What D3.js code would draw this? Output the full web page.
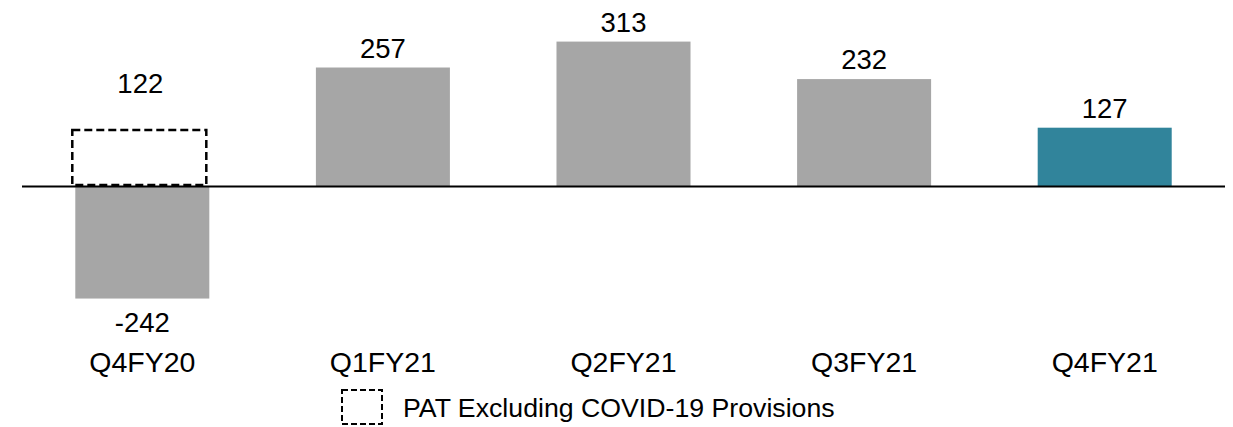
<!DOCTYPE html>
<html>
<head>
<meta charset="utf-8">
<script src="https://cdn.jsdelivr.net/npm/d3@7"></script>
<style>
  html, body { margin: 0; padding: 0; background: #fff; }
  svg { display: block; font-family: "Liberation Sans", Arial, sans-serif; }
</style>
</head>
<body>
<svg id="chart" width="1233" height="427"></svg>
<script>
const categories = ["Q4FY20", "Q1FY21", "Q2FY21", "Q3FY21", "Q4FY21"];
const patValues = [-242, 257, 313, 232, 127];
const exCovidCategories = ["Q4FY20"];
const exCovidValues = [122];
const legendLabel = "PAT Excluding COVID-19 Provisions";

const svg = d3.select("#chart");
const grey = "#A6A6A6", teal = "#31849B";

const x = d3.scaleBand().domain(categories).range([22, 1225])
  .paddingInner(0.443).paddingOuter(0.2215);
const y = d3.scaleLinear().domain([-250, 330]).range([186.5 + 250 * 0.463, 186.5 - 330 * 0.463]);

const fsVal = 27.5, fsCat = 28.5, fsLeg = 26.7;

// bars
svg.selectAll("rect.bar").data(categories).join("rect")
  .attr("class", "bar")
  .attr("x", d => x(d))
  .attr("width", x.bandwidth())
  .attr("y", (d, i) => y(Math.max(0, patValues[i])))
  .attr("height", (d, i) => Math.abs(y(patValues[i]) - y(0)))
  .attr("fill", (d, i) => i === categories.length - 1 ? teal : grey);

// dashed bars (excluding COVID provisions)
svg.selectAll("rect.ex").data(exCovidCategories).join("rect")
  .attr("class", "ex")
  .attr("x", d => x(d) - 3)
  .attr("width", x.bandwidth())
  .attr("y", (d, i) => y(exCovidValues[i]))
  .attr("height", (d, i) => y(0) - y(exCovidValues[i]) - 1.5)
  .attr("fill", "#fff")
  .attr("stroke", "#000")
  .attr("stroke-width", 2.5)
  .attr("stroke-dasharray", "8,4");

// baseline
svg.append("line")
  .attr("x1", x.range()[0]).attr("x2", x.range()[1])
  .attr("y1", y(0)).attr("y2", y(0))
  .attr("stroke", "#000").attr("stroke-width", 2);

// value labels
svg.selectAll("text.val").data(categories).join("text")
  .attr("class", "val")
  .attr("x", d => x(d) + x.bandwidth() / 2)
  .attr("y", (d, i) => patValues[i] >= 0 ? y(patValues[i]) - 10 : y(patValues[i]) + 33)
  .attr("text-anchor", "middle")
  .attr("font-size", fsVal)
  .attr("fill", "#000")
  .text((d, i) => patValues[i]);

svg.selectAll("text.exval").data(exCovidCategories).join("text")
  .attr("class", "exval")
  .attr("x", d => x(d) + x.bandwidth() / 2 - 2)
  .attr("y", (d, i) => y(exCovidValues[i]) - 37)
  .attr("text-anchor", "middle")
  .attr("font-size", fsVal)
  .attr("fill", "#000")
  .text((d, i) => exCovidValues[i]);

// category labels
const xAxis = d3.axisBottom(x).tickSize(0).tickPadding(0);
const gx = svg.append("g").attr("transform", "translate(0,372)").call(xAxis);
gx.select(".domain").remove();
gx.selectAll("text").attr("font-size", fsCat).attr("fill", "#000")
  .attr("font-family", "Liberation Sans, Arial, sans-serif").attr("y", 0).attr("dy", "0");

// legend
const lg = svg.append("g");
lg.append("rect").attr("x", 342).attr("y", 390).attr("width", 40).attr("height", 34)
  .attr("fill", "#fff").attr("stroke", "#000").attr("stroke-width", 2)
  .attr("stroke-dasharray", "6,3");
lg.append("text").attr("x", 403).attr("y", 417).attr("font-size", fsLeg).attr("fill", "#000")
  .text(legendLabel);
</script>
</body>
</html>
